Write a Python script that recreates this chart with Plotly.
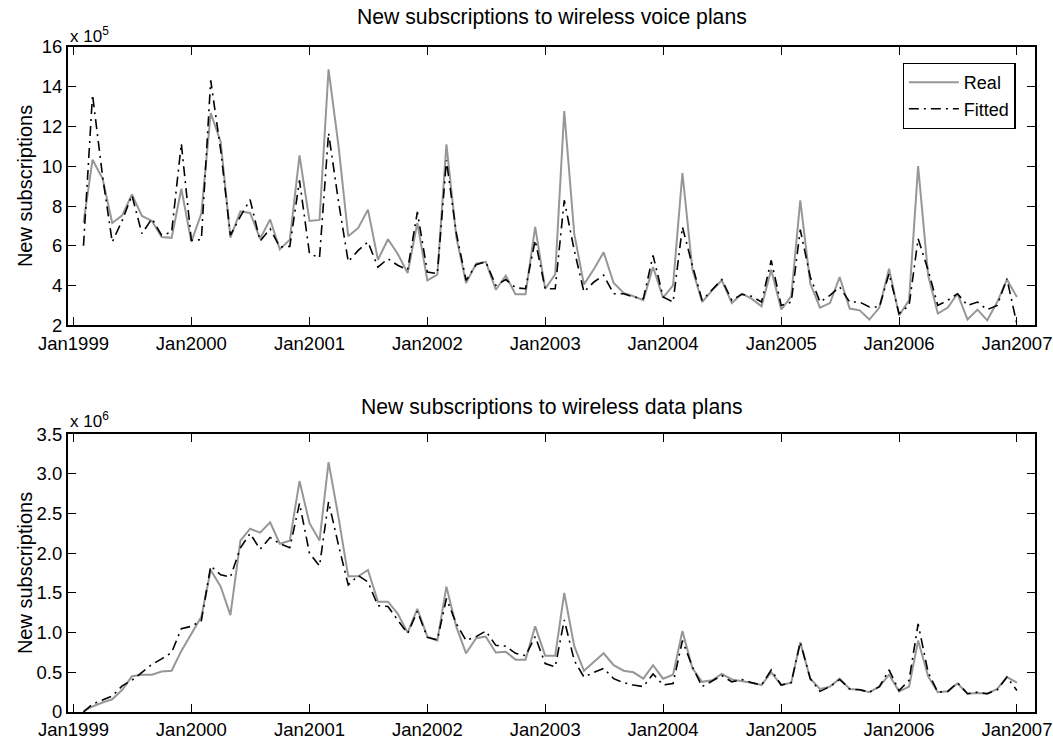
import pandas as pd
import plotly.graph_objects as go

months = pd.date_range("1999-02-01", periods=96, freq="MS")

voice_real = [7.15, 10.33, 9.38, 7.15, 7.53, 8.59, 7.5, 7.25, 6.44, 6.4, 8.87, 6.2,
              7.62, 12.68, 11.22, 6.41, 7.73, 7.65, 6.36, 7.32, 5.82, 6.31, 10.55, 7.25,
              7.3, 14.88, 11.0, 6.48, 6.9, 7.82, 5.3, 6.33, 5.6, 4.63, 7.15, 4.26,
              4.55, 11.1, 6.41, 4.13, 5.1, 5.19, 3.79, 4.5, 3.56, 3.56, 6.95, 3.83,
              4.57, 12.78, 6.6, 4.06, 4.83, 5.67, 4.13, 3.63, 3.46, 3.26, 4.93, 3.39,
              4.01, 9.66, 4.8, 3.17, 3.76, 4.26, 3.12, 3.59, 3.34, 2.96, 4.8, 2.79,
              3.46, 8.29, 4.1, 2.89, 3.12, 4.43, 2.84, 2.75, 2.29, 2.89, 4.85, 2.5,
              3.26, 10.01, 4.52, 2.59, 2.89, 3.59, 2.29, 2.79, 2.25, 3.17, 4.3, 3.43]

voice_fit = [6.0, 13.6, 9.5, 6.19, 7.28, 8.54, 6.61, 7.37, 6.53, 6.69, 11.14, 6.28,
             6.31, 14.32, 10.8, 6.53, 7.48, 8.32, 6.24, 6.86, 5.94, 5.97, 9.29, 5.6,
             5.4, 11.67, 8.2, 5.2, 5.77, 6.19, 4.93, 5.35, 5.02, 4.8, 7.7, 4.68,
             4.6, 10.3, 6.61, 4.26, 5.05, 5.19, 4.01, 4.3, 3.89, 3.84, 6.28, 3.84,
             3.84, 8.29, 5.77, 3.68, 4.18, 4.52, 3.59, 3.59, 3.43, 3.34, 5.52, 3.43,
             3.17, 6.95, 5.0, 3.26, 3.79, 4.3, 3.26, 3.56, 3.46, 3.17, 5.27, 3.0,
             3.17, 6.81, 4.43, 3.17, 3.51, 3.93, 3.17, 3.17, 2.92, 2.92, 4.6, 2.59,
             3.0, 6.36, 4.77, 3.0, 3.26, 3.59, 3.0, 3.17, 2.79, 3.0, 4.35, 2.05]

data_real = [0.01, 0.07, 0.12, 0.16, 0.28, 0.45, 0.47, 0.47, 0.51, 0.52, 0.77, 0.98,
             1.2, 1.79, 1.58, 1.22, 2.16, 2.31, 2.26, 2.39, 2.12, 2.16, 2.91, 2.38,
             2.16, 3.15, 2.45, 1.71, 1.71, 1.79, 1.39, 1.39, 1.24, 1.0, 1.3, 0.95,
             0.9, 1.58, 1.07, 0.74, 0.93, 0.95, 0.75, 0.76, 0.66, 0.66, 1.08, 0.71,
             0.71, 1.5, 0.83, 0.52, 0.63, 0.74, 0.59, 0.52, 0.5, 0.42, 0.59, 0.42,
             0.47, 1.02, 0.55, 0.38, 0.4, 0.48, 0.41, 0.39, 0.37, 0.34, 0.5, 0.34,
             0.37, 0.88, 0.42, 0.29, 0.32, 0.42, 0.29, 0.28, 0.25, 0.32, 0.47, 0.26,
             0.32, 0.9, 0.45, 0.25, 0.26, 0.36, 0.23, 0.24, 0.23, 0.29, 0.44, 0.37]

data_fit = [0.0, 0.1, 0.15, 0.2, 0.33, 0.4, 0.5, 0.6, 0.67, 0.75, 1.05, 1.08,
            1.15, 1.84, 1.73, 1.7, 2.07, 2.25, 2.05, 2.2, 2.12, 2.07, 2.63, 2.0,
            1.84, 2.65, 2.1, 1.6, 1.72, 1.64, 1.34, 1.33, 1.16, 0.99, 1.27, 0.94,
            0.91, 1.43, 1.11, 0.9, 0.95, 1.02, 0.84, 0.83, 0.74, 0.71, 0.95, 0.61,
            0.57, 1.16, 0.65, 0.44, 0.5, 0.55, 0.42, 0.37, 0.34, 0.32, 0.48, 0.34,
            0.36, 0.9, 0.57, 0.32, 0.39, 0.46, 0.38, 0.41, 0.37, 0.34, 0.53, 0.34,
            0.37, 0.88, 0.42, 0.26, 0.32, 0.41, 0.29, 0.28, 0.25, 0.32, 0.53, 0.27,
            0.4, 1.11, 0.5, 0.25, 0.26, 0.37, 0.23, 0.25, 0.23, 0.28, 0.44, 0.27]

x_tick_vals = [f"{y}-01-01" for y in range(1999, 2008)]
x_tick_text = [f"Jan{y}" for y in range(1999, 2008)]
voice_ticks = [2, 4, 6, 8, 10, 12, 14, 16]
voice_tick_text = ["2", "4", "6", "8", "10", "12", "14", "16"]
data_ticks = [0, 0.5, 1.0, 1.5, 2.0, 2.5, 3.0, 3.5]
data_tick_text = ["0", "0.5", "1.0", "1.5", "2.0", "2.5", "3.0", "3.5"]

FONT = "Liberation Sans, Arial, Helvetica, sans-serif"
GRAY = "#979797"
DASHDOT = "10px,5px,2px,5px"

fig = go.Figure()
fig.add_trace(go.Scatter(x=months, y=voice_real, mode="lines", name="Real",
                         line=dict(color=GRAY, width=2), xaxis="x", yaxis="y"))
fig.add_trace(go.Scatter(x=months, y=voice_fit, mode="lines", name="Fitted",
                         line=dict(color="black", width=1.6, dash=DASHDOT), xaxis="x", yaxis="y"))
fig.add_trace(go.Scatter(x=months, y=data_real, mode="lines", name="Real", showlegend=False,
                         line=dict(color=GRAY, width=2), xaxis="x2", yaxis="y2"))
fig.add_trace(go.Scatter(x=months, y=data_fit, mode="lines", name="Fitted", showlegend=False,
                         line=dict(color="black", width=1.6, dash=DASHDOT), xaxis="x2", yaxis="y2"))

xcommon = dict(type="date", range=["1998-12-15", "2007-02-26"], tickmode="array",
               tickvals=x_tick_vals, ticktext=x_tick_text, ticks="inside", ticklen=8,
               tickwidth=1.2, tickcolor="black", showline=True, linewidth=2, linecolor="black",
               mirror="ticks", showgrid=False, zeroline=False, automargin=False,
               tickfont=dict(family=FONT, size=18.5, color="black"))
ycommon = dict(ticks="inside", ticklen=8, tickwidth=1.2, tickcolor="black", showline=True,
               linewidth=2, linecolor="black", mirror="ticks", showgrid=False, zeroline=False,
               automargin=False,
               tickfont=dict(family=FONT, size=18.5, color="black"), tickmode="array")

fig.update_layout(
    width=1053, height=740,
    paper_bgcolor="white", plot_bgcolor="white",
    margin=dict(l=68, r=18, t=47, b=28, autoexpand=False),
    font=dict(family=FONT, color="black"),
    xaxis=dict(xcommon, anchor="y"),
    yaxis=dict(ycommon, domain=[0.5815, 1.0], range=[2, 16], tickvals=voice_ticks,
               ticktext=voice_tick_text, anchor="x"),
    xaxis2=dict(xcommon, anchor="y2"),
    yaxis2=dict(ycommon, domain=[0.0, 0.4176], range=[0, 3.5], tickvals=data_ticks,
                ticktext=data_tick_text, anchor="x2"),
    legend=dict(x=0.98, y=0.976, xanchor="right", yanchor="top", bgcolor="white",
                bordercolor="black", borderwidth=1.2, font=dict(family=FONT, size=18),
                itemwidth=50, tracegroupgap=0),
    showlegend=True,
)

annotations = [
    dict(text="New subscriptions to wireless voice plans", x=0.5, y=1.0447, xref="paper",
         yref="paper", xanchor="center", yanchor="middle", showarrow=False,
         font=dict(family=FONT, size=21.2)),
    dict(text="New subscriptions to wireless data plans", x=0.5, y=0.4586, xref="paper",
         yref="paper", xanchor="center", yanchor="middle", showarrow=False,
         font=dict(family=FONT, size=21.2)),
    dict(text="x 10<sup>5</sup>", x=0.0, y=1.0176, xref="paper", yref="paper",
         xanchor="left", yanchor="middle", showarrow=False, font=dict(family=FONT, size=17)),
    dict(text="x 10<sup>6</sup>", x=0.0, y=0.4386, xref="paper", yref="paper",
         xanchor="left", yanchor="middle", showarrow=False, font=dict(family=FONT, size=17)),
    dict(text="New subscriptions", x=-0.0445, y=0.7908, xref="paper", yref="paper",
         xanchor="center", yanchor="middle", textangle=-90, showarrow=False,
         font=dict(family=FONT, size=20)),
    dict(text="New subscriptions", x=-0.0445, y=0.2088, xref="paper", yref="paper",
         xanchor="center", yanchor="middle", textangle=-90, showarrow=False,
         font=dict(family=FONT, size=20)),
]
fig.update_layout(annotations=annotations)

fig.write_html("out.html", config={"displayModeBar": False},
               post_script="document.body.style.margin='0px';document.body.style.padding='0px';")
